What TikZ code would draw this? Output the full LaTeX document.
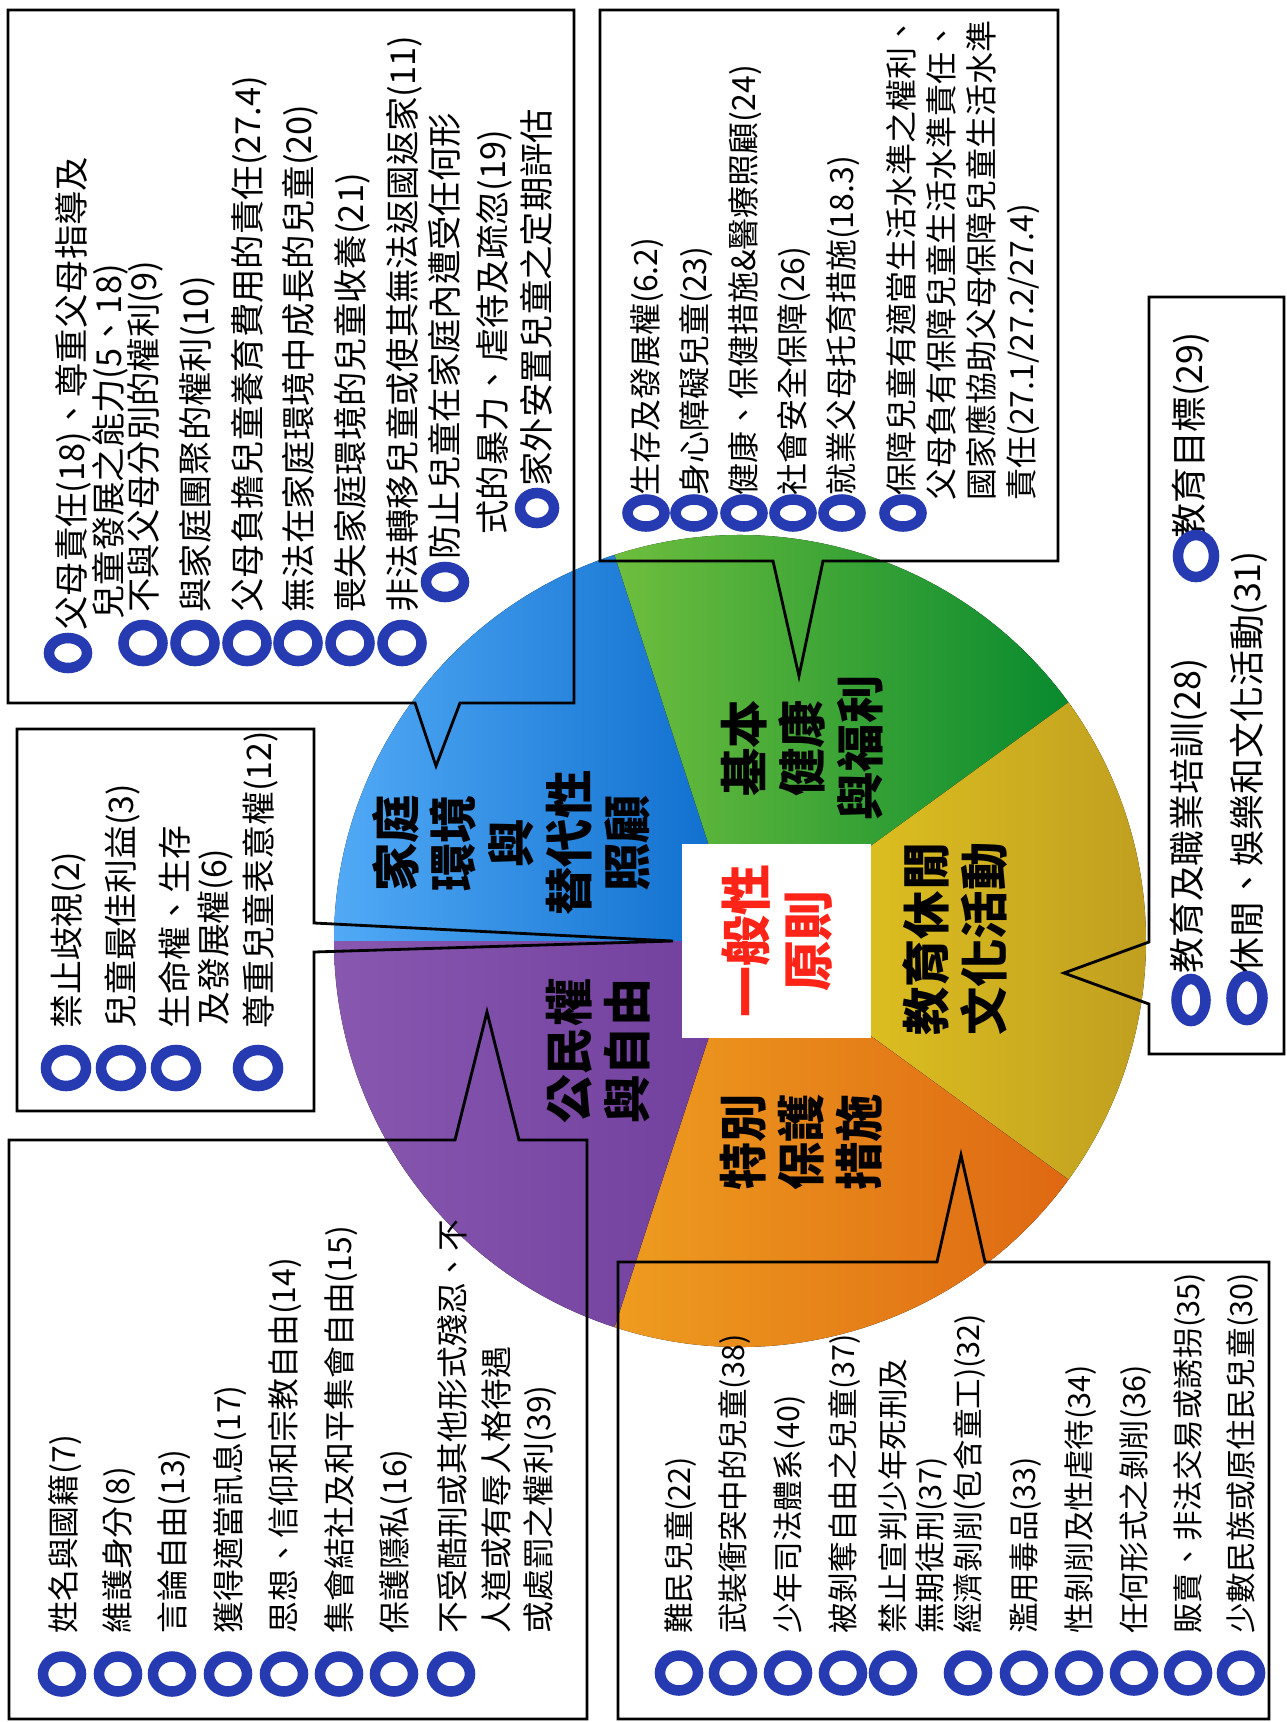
\documentclass[tikz,border=0pt]{standalone}
\usepackage{fontspec}
\setmainfont{Noto Sans CJK TC}
\definecolor{ringblue}{RGB}{38,58,178}
\definecolor{blueL}{RGB}{82,170,246}
\definecolor{blueR}{RGB}{12,108,204}
\definecolor{greenL}{RGB}{110,190,62}
\definecolor{greenR}{RGB}{8,138,46}
\definecolor{yelL}{RGB}{232,204,32}
\definecolor{yelR}{RGB}{190,156,32}
\definecolor{oraL}{RGB}{238,156,32}
\definecolor{oraR}{RGB}{222,104,18}
\definecolor{purL}{RGB}{136,88,176}
\definecolor{purR}{RGB}{112,62,156}
\definecolor{redT}{RGB}{255,36,24}
\begin{document}
\begin{tikzpicture}[x=0.02cm,y=-0.02cm,
  itm/.style={rotate=90, anchor=west, inner sep=0pt},
  fa/.style={font=\fontsize{19.56pt}{20pt}\selectfont, text height=17.2pt, text depth=2.35pt},
  fb/.style={font=\fontsize{18.2pt}{19pt}\selectfont, text height=16.0pt, text depth=2.18pt},
  fc/.style={font=\fontsize{19.27pt}{20pt}\selectfont, text height=16.96pt, text depth=2.31pt},
  fd/.style={font=\fontsize{18.14pt}{19pt}\selectfont, text height=15.96pt, text depth=2.18pt},
  fe/.style={font=\fontsize{17.4pt}{18pt}\selectfont, text height=15.31pt, text depth=2.09pt},
  ff/.style={font=\fontsize{20.41pt}{21pt}\selectfont, text height=17.96pt, text depth=2.45pt},
  ring/.style={draw=ringblue, line width=6pt},
  box/.style={draw=black, line width=1.6pt, line join=miter},
  big/.style={rotate=90, align=center, inner sep=0pt, text=black,
    font=\fontsize{27.5pt}{32.9pt}\selectfont\bfseries},
]
\useasboundingbox (0,0) rectangle (1286,1722);
\fill[white] (0,0) rectangle (1286,1722);

% ---------- pie ----------
\begin{scope}[shift={(740,941)}, x=0.02cm, y=0.02cm]
\fill[left color=blueL, right color=blueR] (0,0) -- (108:406) arc[start angle=108, end angle=180, radius=406] -- cycle;
\fill[left color=greenL, right color=greenR] (0,0) -- (36:406) arc[start angle=36, end angle=108, radius=406] -- cycle;
\fill[left color=yelL, right color=yelR] (0,0) -- (-36:406) arc[start angle=-36, end angle=36, radius=406] -- cycle;
\fill[left color=oraL, right color=oraR] (0,0) -- (-108:406) arc[start angle=-108, end angle=-36, radius=406] -- cycle;
\fill[left color=purL, right color=purR] (0,0) -- (180:406) arc[start angle=180, end angle=252, radius=406] -- cycle;
\end{scope}
\fill[white] (682,844) rectangle (871,1038);

\node[big] (lb) at (511,843) {家庭\\環境\\與\\替代性\\照顧};
\node[big] (lg) at (802,748) {基本\\健康\\與福利};
\node[big] (ly) at (955,939) {教育休閒\\文化活動};
\node[big] (lo) at (801,1142) {特別\\保護\\措施};
\node[big] (lp) at (598,1051) {公民權\\與自由};
\node[big, text=redT, font=\fontsize{29pt}{35pt}\selectfont\bfseries] (lr) at (777,941) {一般性\\原則};

% ---------- boxes ----------
\draw[box] (8,10) -- (574,10) -- (574,703) -- (460,703) -- (436,766) -- (415,703) -- (8,703) -- cycle;
\draw[box] (600,10) -- (1058,10) -- (1058,561) -- (823,561) -- (799,676) -- (773,561) -- (600,561) -- cycle;
\draw[box] (17,729) -- (314,729) -- (314,923) -- (673,941) -- (314,952) -- (314,1111) -- (17,1111) -- cycle;
\draw[box] (9,1140) -- (455,1140) -- (487,1012) -- (519,1140) -- (587,1140) -- (587,1719) -- (9,1719) -- cycle;
\draw[box] (618,1262) -- (937,1262) -- (961,1155) -- (985,1262) -- (1269,1262) -- (1269,1719) -- (618,1719) -- cycle;
\draw[box] (1149,297) -- (1284,297) -- (1284,1054) -- (1149,1054) -- (1149,1004) -- (1064,973) -- (1149,942) -- cycle;

% ---------- box A ----------
\node[itm,fa] (a1) at (71,631) {父母責任(18)、尊重父母指導及};
\node[itm,fa] (a2) at (108,620) {兒童發展之能力(5、18)};
\node[itm,fa] (a3) at (143,613) {不與父母分別的權利(9)};
\node[itm,fa] (a4) at (195,613) {與家庭團聚的權利(10)};
\node[itm,fa] (a5) at (247,613) {父母負擔兒童養育費用的責任(27.4)};
\node[itm,fa] (a6) at (298,613) {無法在家庭環境中成長的兒童(20)};
\node[itm,fa] (a7) at (350,613) {喪失家庭環境的兒童收養(21)};
\node[itm,fa] (a8) at (402,613) {非法轉移兒童或使其無法返國返家(11)};
\node[itm,fa] (a9) at (444,560) {防止兒童在家庭內遭受任何形};
\node[itm,fa] (a10) at (492,535) {式的暴力、虐待及疏忽(19)};
\node[itm,fa] (a11) at (536,487) {家外安置兒童之定期評估};
\draw[ring] (68,653) ellipse [x radius=19, y radius=15];
\foreach \xx in {143,195,247,298,350,402}
  \draw[ring] (\xx,643) ellipse [x radius=19.5, y radius=18];
\draw[ring] (445,582) ellipse [x radius=19, y radius=15];
\draw[ring] (537,508) ellipse [x radius=17, y radius=15];

% ---------- box B ----------
\node[itm,fb] (b1) at (645,496) {生存及發展權(6.2)};
\node[itm,fb] (b2) at (694,496) {身心障礙兒童(23)};
\node[itm,fb] (b3) at (743,496) {健康、保健措施\&醫療照顧(24)};
\node[itm,fb] (b4) at (792,496) {社會安全保障(26)};
\node[itm,fb] (b5) at (841,496) {就業父母托育措施(18.3)};
\node[itm,fb] (b6) at (901,496) {保障兒童有適當生活水準之權利、};
\node[itm,fb] (b7) at (941,501) {父母負有保障兒童生活水準責任、};
\node[itm,fb] (b8) at (981,501) {國家應協助父母保障兒童生活水準};
\node[itm,fb] (b9) at (1021,501) {責任(27.1/27.2/27.4)};
\foreach \xx in {646,694,744,793,842,903}
  \draw[ring] (\xx,513) ellipse [x radius=18.5, y radius=13.5];

% ---------- box C ----------
\node[itm,fc] (c1) at (67,1029) {禁止歧視(2)};
\node[itm,fc] (c2) at (121,1029) {兒童最佳利益(3)};
\node[itm,fc] (c3) at (175,1029) {生命權、生存};
\node[itm,fc] (c4) at (214,1026) {及發展權(6)};
\node[itm,fc] (c5) at (259,1029) {尊重兒童表意權(12)};
\foreach \xx in {66,121,176,258}
  \draw[ring] (\xx,1068) ellipse [x radius=20, y radius=18];

% ---------- box D ----------
\node[itm,fd] (d1) at (63,1634) {姓名與國籍(7)};
\node[itm,fd] (d2) at (117,1634) {維護身分(8)};
\node[itm,fd] (d3) at (172,1634) {言論自由(13)};
\node[itm,fd] (d4) at (228,1634) {獲得適當訊息(17)};
\node[itm,fd] (d5) at (283,1634) {思想、信仰和宗教自由(14)};
\node[itm,fd] (d6) at (339,1634) {集會結社及和平集會自由(15)};
\node[itm,fd] (d7) at (394,1634) {保護隱私(16)};
\node[itm,fd] (d8) at (452,1634) {不受酷刑或其他形式殘忍、不};
\node[itm,fd] (d9) at (496,1634) {人道或有辱人格待遇};
\node[itm,fd] (d10) at (538,1634) {或處罰之權利(39)};
\foreach \xx in {62,118,172,228,284,339,394,451}
  \draw[ring] (\xx,1674) ellipse [x radius=19, y radius=17.5];

% ---------- box E ----------
\node[itm,fe] (e1) at (679,1634) {難民兒童(22)};
\node[itm,fe] (e2) at (733,1634) {武裝衝突中的兒童(38)};
\node[itm,fe] (e3) at (788,1634) {少年司法體系(40)};
\node[itm,fe] (e4) at (843,1634) {被剝奪自由之兒童(37)};
\node[itm,fe] (e5) at (893,1634) {禁止宣判少年死刑及};
\node[itm,fe] (e6) at (930,1634) {無期徒刑(37)};
\node[itm,fe] (e7) at (968,1634) {經濟剝削(包含童工)(32)};
\node[itm,fe] (e8) at (1024,1634) {濫用毒品(33)};
\node[itm,fe] (e9) at (1079,1634) {性剝削及性虐待(34)};
\node[itm,fe] (e10) at (1134,1634) {任何形式之剝削(36)};
\node[itm,fe] (e11) at (1188,1634) {販賣、非法交易或誘拐(35)};
\node[itm,fe] (e12) at (1241,1634) {少數民族或原住民兒童(30)};
\foreach \xx in {679,733,788,843,893,968,1024,1079,1134,1188,1241}
  \draw[ring] (\xx,1673) ellipse [x radius=19, y radius=17.5];

% ---------- box F ----------
\node[itm,ff] (f1) at (1187,974) {教育及職業培訓(28)};
\node[itm,ff] (f2) at (1247,974) {休閒、娛樂和文化活動(31)};
\node[itm,ff] (f3) at (1189,540) {教育目標(29)};
\draw[ring] (1191,1000) ellipse [x radius=14.5, y radius=21];
\draw[ring] (1247,998) ellipse [x radius=15.5, y radius=22];
\draw[ring] (1196,556) ellipse [x radius=18, y radius=21];
\end{tikzpicture}
\end{document}
